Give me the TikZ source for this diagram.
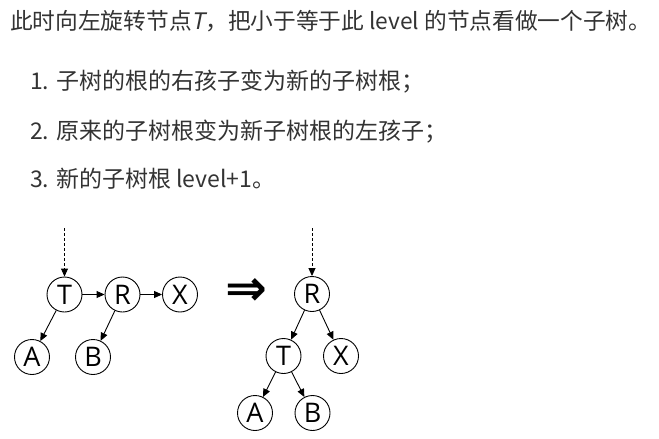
\documentclass[tikz,border=0pt]{standalone}
\usepackage{fontspec}
\setmainfont{Noto Sans CJK SC}[AutoFakeSlant=0.2]
\newfontfamily\nodefont{Open Sans}
\newfontfamily\symfont{DejaVu Sans}
\usetikzlibrary{arrows.meta}
\definecolor{textgray}{HTML}{333333}
\tikzstyle{treenode} = [draw=black, circle, minimum size=35pt, inner sep=0pt,
    line width=0.9pt, font=\nodefont\fontsize{27}{27}\selectfont]
\tikzstyle{treeedge} = [-{Triangle[length=8pt,width=7pt]}, line width=0.9pt]
\tikzstyle{rootedge} = [treeedge, dash pattern=on 3pt off 2pt]
\tikzstyle{textline} = [anchor=base west, inner sep=0pt, text=textgray,
    font=\fontsize{23}{26}\selectfont]

\begin{document}
\begin{tikzpicture}[x=1pt, y=-1pt]
\useasboundingbox (0,0) rectangle (659,439);
% text
\node[textline, font=\fontsize{22.7}{26}\selectfont] (intro) at (10,30) {此时向左旋转节点\textit{T}，把小于等于此 level 的节点看做一个子树。};
\node[textline] (step1) at (30,89) {1. 子树的根的右孩子变为新的子树根；};
\node[textline] (step2) at (30,139) {2. 原来的子树根变为新子树根的左孩子；};
\node[textline] (step3) at (30,187) {3. 新的子树根 level+1。};

% before
\node[treenode] (T) at (64.5,294.5) {T};
\node[treenode] (R) at (122.5,294.5) {R};
\node[treenode] (X) at (180,294.5) {X};
\node[treenode] (A) at (32,357) {A};
\node[treenode] (B) at (93,357) {B};
\coordinate (top) at (64.5,228);
\draw[rootedge] (top) -- (T);
\draw[treeedge] (T) -- (R);
\draw[treeedge] (R) -- (X);
\draw[treeedge] (T) -- (A);
\draw[treeedge] (R) -- (B);

\node[inner sep=0pt, font=\symfont\bfseries\fontsize{50}{50}\selectfont] (implies) at (246,292) {⇒};

% after
\node[treenode] (R2) at (312,294) {R};
\node[treenode] (T2) at (283.5,356) {T};
\node[treenode] (X2) at (341,356) {X};
\node[treenode] (A2) at (255,413) {A};
\node[treenode] (B2) at (312.5,413) {B};
\coordinate (top2) at (312,228);
\draw[rootedge] (top2) -- (R2);
\draw[treeedge] (R2) -- (T2);
\draw[treeedge] (R2) -- (X2);
\draw[treeedge] (T2) -- (A2);
\draw[treeedge] (T2) -- (B2);
\end{tikzpicture}
\end{document}
